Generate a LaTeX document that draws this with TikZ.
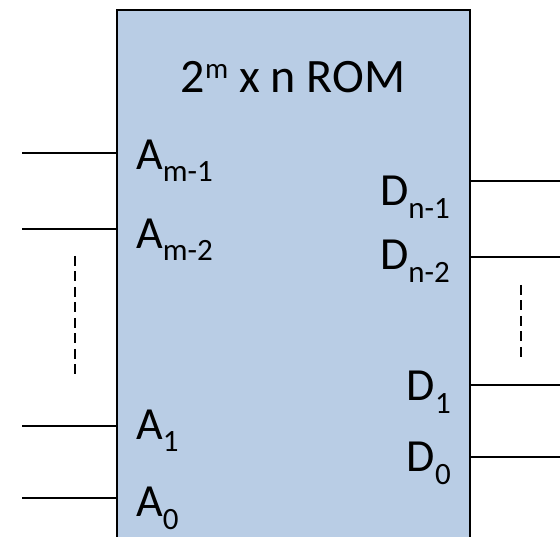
\documentclass[tikz,border=0pt]{standalone}
\usepackage{fontspec}
\setmainfont{Carlito}
\usepackage{xcolor}
\definecolor{romfill}{HTML}{B9CDE5}
\usetikzlibrary{calc}
\newcommand{\pinsub}[1]{\raisebox{-12.5pt}{\fontsize{31}{31}\selectfont #1}}
\newcommand{\pinsup}[1]{\raisebox{14.4pt}{\fontsize{29}{29}\selectfont #1}}

\begin{document}
\begin{tikzpicture}[
    x=1pt, y=-1pt,
    romblock/.style={
        rectangle, draw, line width=2pt, fill=romfill,
        minimum width=353pt, minimum height=550pt, inner sep=0pt,
    },
    pinlabel/.style={inner sep=0pt, font=\fontsize{46}{46}\selectfont},
    wire/.style={line width=2pt},
    dots/.style={line width=2pt, dash pattern=on 10pt off 5.5pt}
]
\useasboundingbox (0,0) rectangle (560,537);
\clip (0,0) rectangle (560,537);

% ROM block, bottom runs off the page
\node[romblock] (rom) at (293.5,285) {};
\node[pinlabel, anchor=base, font=\fontsize{48}{48}\selectfont] (title) at (293,92.7)
    {2\pinsup{m} x n ROM};

% Address inputs
\node[pinlabel, anchor=base west] (lam1) at (136,169.3) {A\pinsub{m-1}};
\node[pinlabel, anchor=base west] (lam2) at (136,248.3) {A\pinsub{m-2}};
\node[pinlabel, anchor=base west] (la1) at (136,439.3) {A\pinsub{1}};
\node[pinlabel, anchor=base west] (la0) at (136,516.7) {A\pinsub{0}};

% Data outputs
\node[pinlabel, anchor=base east] (ldn1) at (450,206) {D\pinsub{n-1}};
\node[pinlabel, anchor=base east] (ldn2) at (450,270) {D\pinsub{n-2}};
\node[pinlabel, anchor=base east] (ld1) at (451,400.7) {D\pinsub{1}};
\node[pinlabel, anchor=base east] (ld0) at (451,471.7) {D\pinsub{0}};

% Pin ends
\coordinate (am1) at (22,153.3);
\coordinate (am2) at (22,229);
\coordinate (a1) at (22,425.7);
\coordinate (a0) at (22,498.3);
\coordinate (dn1) at (560,180.7);
\coordinate (dn2) at (560,256.7);
\coordinate (d1) at (560,385);
\coordinate (d0) at (560,456.7);

% --- Wires ---
\draw[wire] (am1) -- (am1 -| rom.west);
\draw[wire] (am2) -- (am2 -| rom.west);
\draw[wire] (a1) -- (a1 -| rom.west);
\draw[wire] (a0) -- (a0 -| rom.west);
\draw[wire] (rom.east |- dn1) -- (dn1);
\draw[wire] (rom.east |- dn2) -- (dn2);
\draw[wire] (rom.east |- d1) -- (d1);
\draw[wire] (rom.east |- d0) -- (d0);

% --- Skipped pins ---
\coordinate (askip top) at (75.3,256);
\coordinate (askip bot) at (75.3,378.3);
\coordinate (dskip top) at (521.3,285);
\coordinate (dskip bot) at (521.3,359.3);
\draw[dots] (askip top) -- (askip bot);
\draw[dots] (dskip top) -- (dskip bot);

\end{tikzpicture}
\end{document}
